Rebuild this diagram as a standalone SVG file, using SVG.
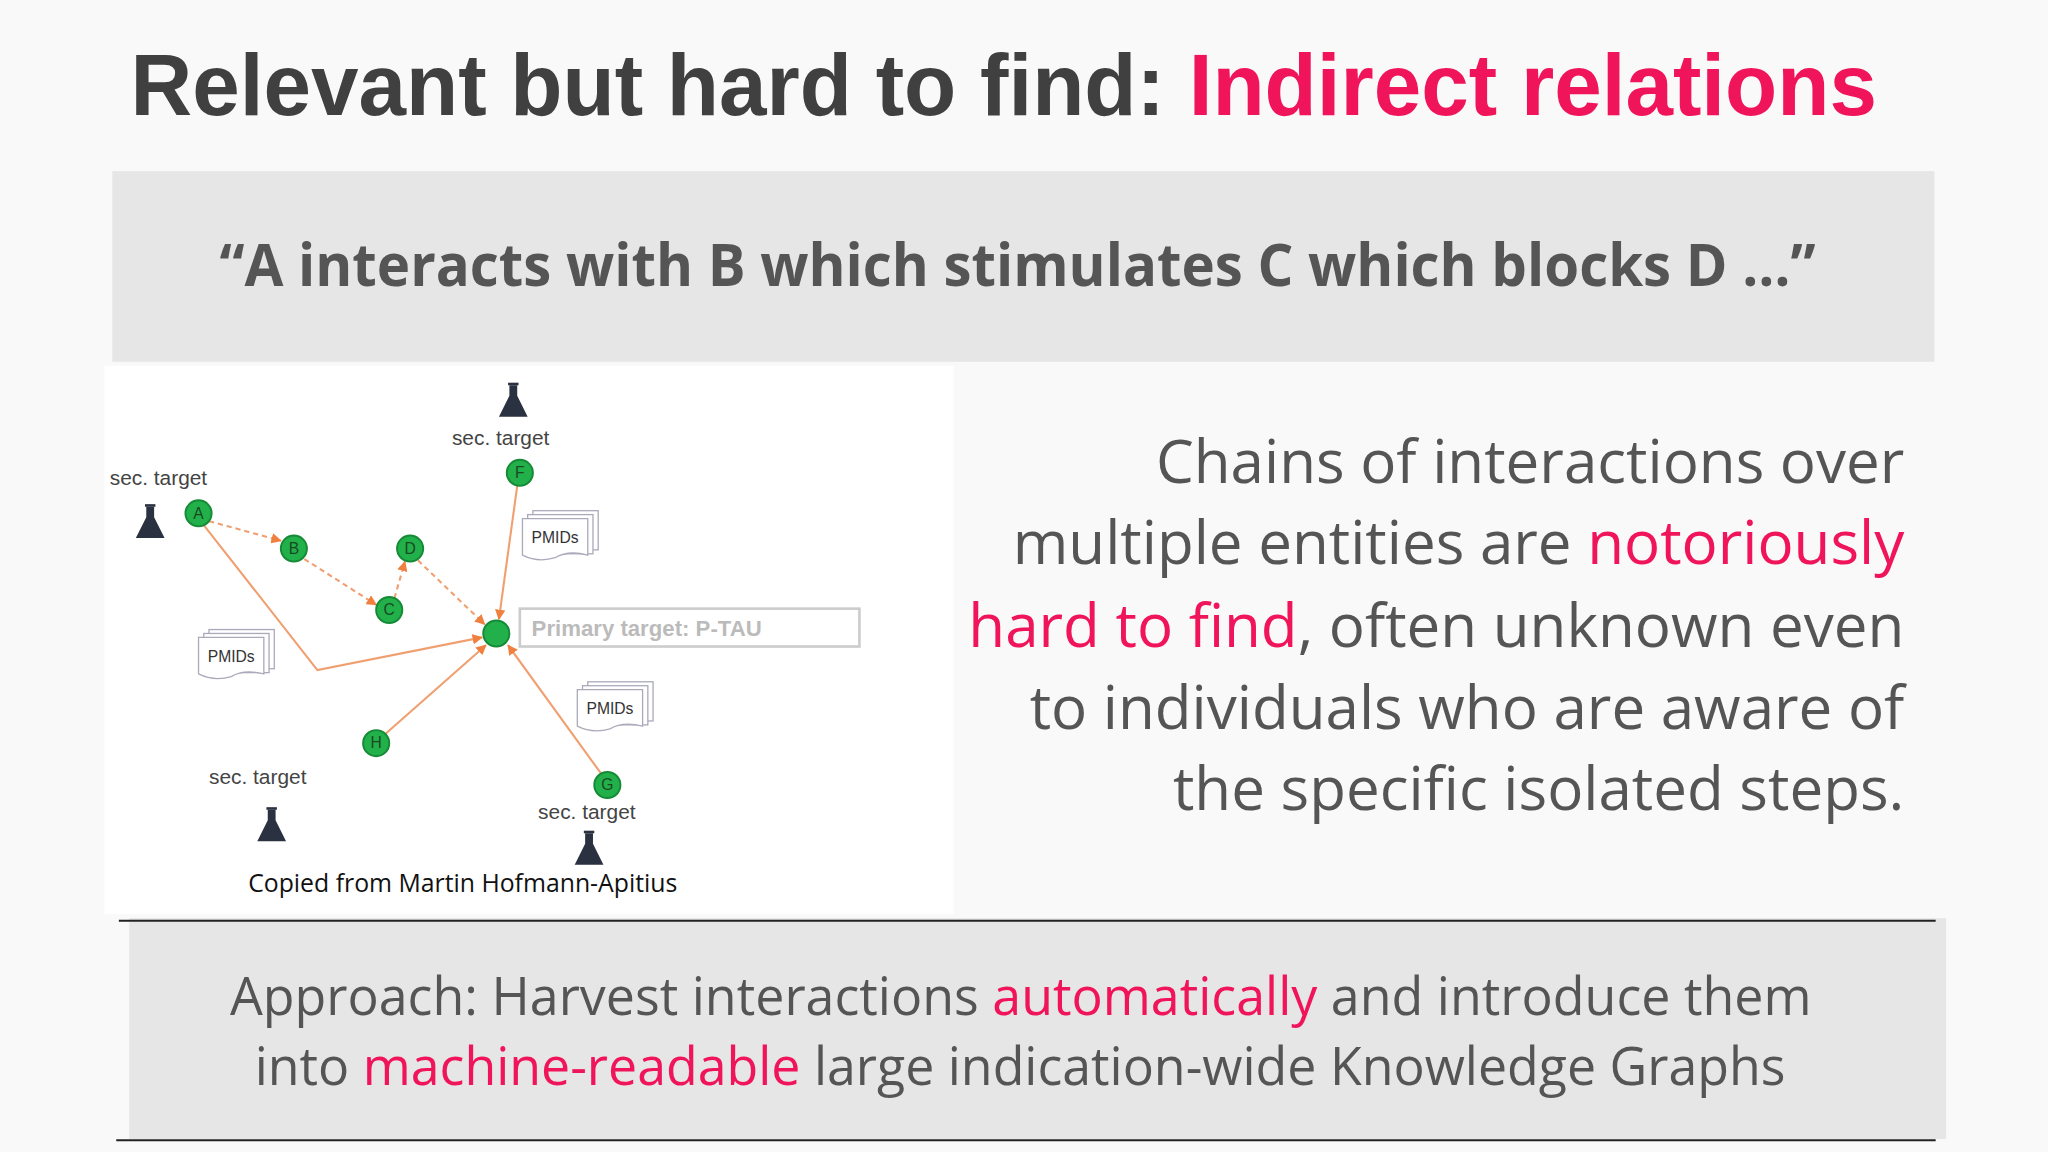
<svg xmlns="http://www.w3.org/2000/svg" width="2048" height="1152" viewBox="0 0 2048 1152">
<defs>
<style>
.t{font-family:"Liberation Sans",Arial,sans-serif}
.o{font-family:"Open Sans","Noto Sans",sans-serif}
.pk{fill:#f0145a}
.n{fill:#22b04b;stroke:#168a36;stroke-width:1.5}
.nl{font-family:"Liberation Sans",Arial,sans-serif;font-size:12px;fill:#1a4a22;text-anchor:middle}
.e{stroke:#f0a070;stroke-width:1.6;fill:none;marker-end:url(#ah)}
.d{stroke-dasharray:4 3}
.st{font-family:"Liberation Sans",Arial,sans-serif;font-size:16px;fill:#444}
.doc{fill:#fff;stroke:#aab;stroke-width:1}
.fl{fill:#2a3140}
</style>
<marker id="ah" viewBox="0 0 10 10" refX="9" refY="5" markerWidth="5" markerHeight="5" orient="auto"><path d="M0,0L10,5L0,10z" fill="#f08040"/></marker>
<g id="flask"><rect x="-4" y="-14" width="8" height="2" class="fl"/><path d="M-3,-12 L3,-12 L3,-4 L11,12 L-11,12 L-3,-4 Z" class="fl"/></g>
<g id="pm"><rect x="8" y="0" width="50" height="30" class="doc"/><rect x="4" y="3" width="50" height="30" class="doc"/><path d="M0,6 H50 V34 Q35,30 25,36 Q12,40 0,34 Z" class="doc"/><text x="25" y="25" font-family="Liberation Sans,Arial,sans-serif" font-size="12" fill="#333" text-anchor="middle">PMIDs</text></g>
</defs>
<rect width="2048" height="1152" fill="#f9f9f9"/>
<g transform="scale(1.30612)">
<g id="title"><text class="t" x="100" y="88" font-size="66" font-weight="bold" fill="#404040" textLength="1337" lengthAdjust="spacingAndGlyphs">Relevant but hard to find: <tspan class="pk">Indirect relations</tspan></text></g>
<g id="quote"><rect x="86" y="131" width="1395" height="146" fill="#e6e6e6"/>
<text class="o" x="168" y="219" font-size="45" font-weight="bold" fill="#555" textLength="1222" lengthAdjust="spacingAndGlyphs">“A interacts with B which stimulates C which blocks D …”</text></g>
<rect x="80" y="280" width="650" height="420" fill="#fff"/>
<g id="connectors">
<line class="e d" x1="160" y1="399" x2="215" y2="414"/>
<line class="e d" x1="233" y1="428" x2="288" y2="463"/>
<line class="e d" x1="302" y1="458" x2="310" y2="430"/>
<line class="e d" x1="320" y1="429" x2="371" y2="478"/>
<polyline class="e" points="156,402 243,513 369,488"/>
<line class="e" x1="396" y1="372" x2="382" y2="474"/>
<line class="e" x1="295" y1="562" x2="372" y2="494"/>
<line class="e" x1="460" y1="592" x2="389" y2="494"/>
</g>
<g id="nodeA"><circle class="n" cx="152" cy="393" r="10"/><text class="nl" x="152" y="397">A</text></g>
<g id="nodeB"><circle class="n" cx="225" cy="420" r="10"/><text class="nl" x="225" y="424">B</text></g>
<g id="nodeC"><circle class="n" cx="298" cy="467" r="10"/><text class="nl" x="298" y="471">C</text></g>
<g id="nodeD"><circle class="n" cx="314" cy="420" r="10"/><text class="nl" x="314" y="424">D</text></g>
<g id="nodeF"><circle class="n" cx="398" cy="362" r="10"/><text class="nl" x="398" y="366">F</text></g>
<g id="nodeH"><circle class="n" cx="288" cy="569" r="10"/><text class="nl" x="288" y="573">H</text></g>
<g id="nodeG"><circle class="n" cx="465" cy="601" r="10"/><text class="nl" x="465" y="605">G</text></g>
<g id="primary"><circle class="n" cx="380" cy="485" r="10"/><rect x="398" y="466" width="260" height="29" fill="#fff" stroke="#ccc" stroke-width="2"/><text class="t" x="407" y="487" font-size="17" font-weight="bold" fill="#bbb">Primary target: P-TAU</text></g>
<g id="pmids"><use href="#pm" x="400" y="391"/><use href="#pm" x="152" y="482"/><use href="#pm" x="442" y="522"/></g>
<g id="sectargets">
<text class="st" x="84" y="371">sec. target</text><use href="#flask" x="115" y="400"/>
<text class="st" x="346" y="341">sec. target</text><use href="#flask" x="393" y="307"/>
<text class="st" x="160" y="600">sec. target</text><use href="#flask" x="208" y="632"/>
<text class="st" x="412" y="627">sec. target</text><use href="#flask" x="451" y="650"/>
</g>
<text class="o" x="190" y="683" font-size="19" fill="#111">Copied from Martin Hofmann-Apitius</text>
<g id="para" class="o" font-size="46" fill="#555" text-anchor="end">
<text x="1458" y="370">Chains of interactions over</text>
<text x="1458" y="432">multiple entities are <tspan class="pk">notoriously</tspan></text>
<text x="1458" y="495"><tspan class="pk">hard to find</tspan>, often unknown even</text>
<text x="1458" y="558">to individuals who are aware of</text>
<text x="1458" y="620">the specific isolated steps.</text>
</g>
<g id="approach"><rect x="99" y="703" width="1391" height="169" fill="#e6e6e6"/>
<line x1="91" y1="705" x2="1482" y2="705" stroke="#222" stroke-width="1.5"/>
<line x1="89" y1="873" x2="1482" y2="873" stroke="#222" stroke-width="1.5"/>
<text class="o" x="176" y="777" font-size="41" fill="#555" textLength="1211" lengthAdjust="spacingAndGlyphs">Approach: Harvest interactions <tspan class="pk">automatically</tspan> and introduce them</text>
<text class="o" x="195" y="831" font-size="41" fill="#555" textLength="1172" lengthAdjust="spacingAndGlyphs">into <tspan class="pk">machine-readable</tspan> large indication-wide Knowledge Graphs</text>
</g>
</g>
</svg>
